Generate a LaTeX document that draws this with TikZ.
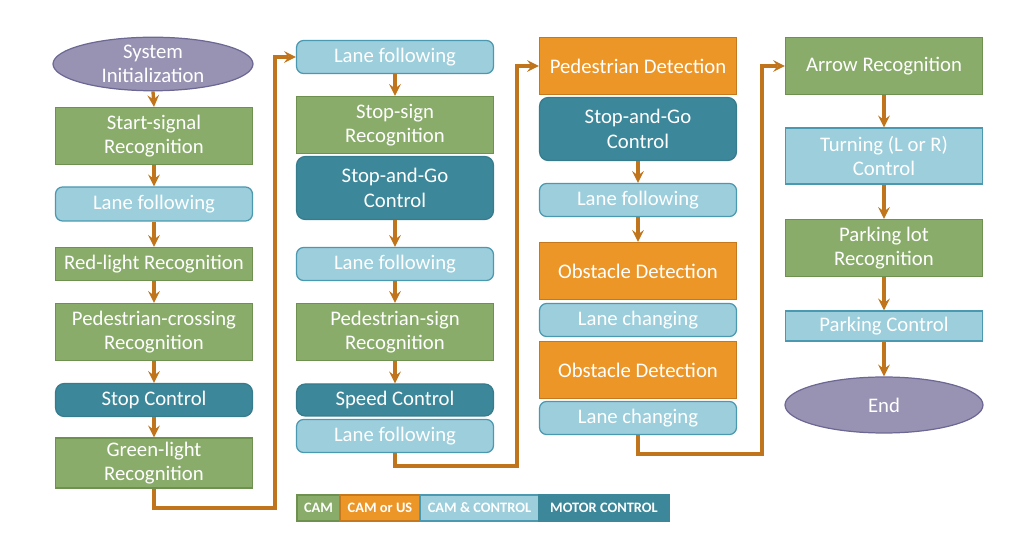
\documentclass[tikz,border=0pt]{standalone}
\usepackage{fontspec}
\setmainfont{Carlito}
\usetikzlibrary{shapes.geometric}
\usetikzlibrary{positioning}
\definecolor{camG}{HTML}{8AAC6B}
\definecolor{camGd}{HTML}{6E9150}
\definecolor{camO}{HTML}{EC9628}
\definecolor{camOd}{HTML}{C5781E}
\definecolor{camL}{HTML}{9CCEDC}
\definecolor{camLd}{HTML}{4B99B0}
\definecolor{motD}{HTML}{3C8799}
\definecolor{motDd}{HTML}{367C8D}
\definecolor{termP}{HTML}{9893B3}
\definecolor{termPd}{HTML}{6C6894}
\definecolor{flowC}{HTML}{C0741B}
\newcommand\blk[5]{
    \node[#1, minimum height={#4*0.02cm}] (#2) at (#3) {#5};
}

\begin{document}
\begin{tikzpicture}[x=0.02cm, y=-0.02cm,
        X/.style={draw, line width=0.7pt, text=white, minimum width=3.94cm,
            align=center, inner sep=1pt, font=\fontsize{11.8}{13.8}\selectfont},
        G/.style={X, fill=camG, draw=camGd},
        O/.style={X, fill=camO, draw=camOd},
        L/.style={X, fill=camL, draw=camLd, rounded corners=4pt},
        Ls/.style={X, fill=camL, draw=camLd},
        M/.style={X, fill=motD, draw=motDd, rounded corners=5pt},
        T/.style={X, ellipse, fill=termP, draw=termPd, inner sep=0pt},
        arr/.style={draw=flowC, line width=1.9pt, ->, >=stealth},
        lg/.style={draw, line width=1pt, text=white, minimum height=0.52cm,
            inner sep=1pt, outer sep=0pt, font=\fontsize{8.2}{9}\selectfont\bfseries}
    ]
    \useasboundingbox (0,0) rectangle (1015,543);

    % column 1
    \node[T, minimum width=4cm, minimum height=1.06cm] (init) at (153,64) {System\\Initialization};
    \blk{G}{ss}{154,136}{57}{Start-signal\\Recognition}
    \blk{L}{lf1}{154,204}{34}{Lane following}
    \blk{G}{rl}{154,264}{33}{Red-light Recognition}
    \blk{G}{pc}{154,332}{57}{Pedestrian-crossing\\Recognition}
    \blk{M}{sc}{154,400}{33}{Stop Control}
    \blk{G}{gl}{154,463}{50}{Green-light\\Recognition}

    % column 2
    \blk{L}{lf2}{395,57}{33}{Lane following}
    \blk{G}{ssr}{395,125}{57}{Stop-sign\\Recognition}
    \blk{M}{sg1}{395,188}{63}{Stop-and-Go\\Control}
    \blk{L}{lf3}{395,264}{33}{Lane following}
    \blk{G}{ps}{395,332}{57}{Pedestrian-sign\\Recognition}
    \blk{M}{spc}{395,400}{32}{Speed Control}
    \blk{L}{lf4}{395,436}{33}{Lane following}

    % column 3
    \blk{O}{pd}{638,66}{57}{Pedestrian Detection}
    \blk{M}{sg2}{638,129}{63}{Stop-and-Go\\Control}
    \blk{L}{lf5}{638,200}{33}{Lane following}
    \blk{O}{od1}{638,271}{57}{Obstacle Detection}
    \blk{L}{lc1}{638,320}{33}{Lane changing}
    \blk{O}{od2}{638,370}{57}{Obstacle Detection}
    \blk{L}{lc2}{638,418}{33}{Lane changing}

    % column 4
    \blk{G}{ar}{884,66}{57}{Arrow Recognition}
    \blk{Ls}{tr}{884,156}{56}{Turning (L or R)\\Control}
    \blk{G}{pl}{884,248}{57}{Parking lot\\Recognition}
    \blk{Ls}{pk}{884,326}{30}{Parking Control}
    \node[T, minimum width=3.96cm, minimum height=1.12cm] (fin) at (884,405) {End};

    % flow
    \foreach \a/\b in {init/ss, ss/lf1, lf1/rl, rl/pc, pc/sc, sc/gl,
                       lf2/ssr, sg1/lf3, lf3/ps, ps/spc,
                       sg2/lf5, lf5/od1,
                       ar/tr, tr/pl, pl/pk, pk/fin}
    {
        \draw[arr] (\a.south) -- (\b.north);
    }
    \coordinate (c1) at (275,508);
    \coordinate (c2) at (517,466);
    \coordinate (c3) at (762,454);
    \draw[arr] (gl.south) |- (c1) |- (lf2.west);
    \draw[arr] (lf4.south) |- (c2) |- (pd.west);
    \draw[arr] (lc2.south) |- (c3) |- (ar.west);

    % legend
    \node[lg, anchor=west, fill=camG, draw=camGd, minimum width=0.86cm] (k1) at (297,508) {CAM};
    \node[lg, right=0pt of k1, fill=camO, draw=camOd, minimum width=1.6cm] (k2) {CAM or US};
    \node[lg, right=0pt of k2, fill=camL, draw=camLd, minimum width=2.38cm] (k3) {CAM \& CONTROL};
    \node[lg, right=0pt of k3, fill=motD, draw=motD, minimum width=2.6cm] (k4) {MOTOR CONTROL};
\end{tikzpicture}
\end{document}
